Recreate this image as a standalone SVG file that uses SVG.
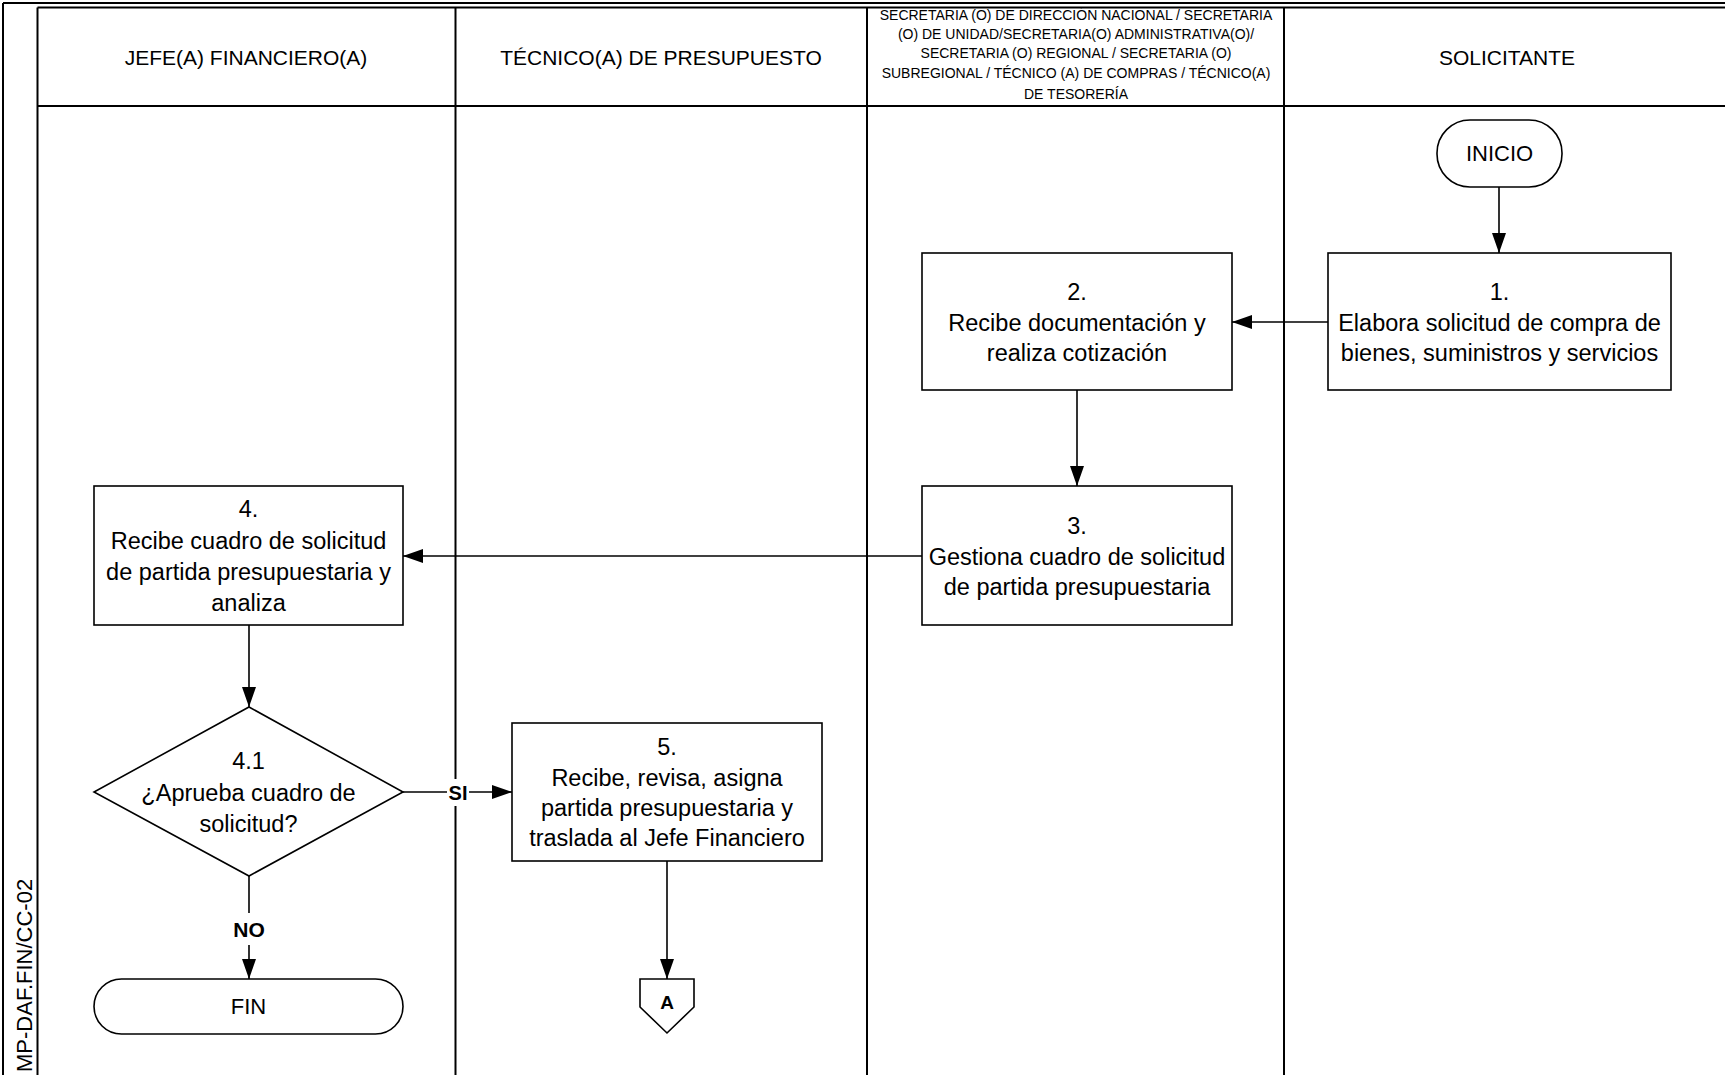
<svg xmlns="http://www.w3.org/2000/svg" width="1725" height="1075" viewBox="0 0 1725 1075">
<style>
.frame{fill:none;stroke:#000;stroke-width:2}
.shape{fill:#fff;stroke:#000;stroke-width:1.6}
.conn{fill:none;stroke:#000;stroke-width:1.6}
text{font-family:"Liberation Sans",Arial,sans-serif;fill:#000}
.t{font-size:23.5px;text-anchor:middle}
.h{font-size:21px;text-anchor:middle}
.hs{font-size:14px;text-anchor:middle}
.b{font-size:21px;font-weight:bold;text-anchor:middle}
</style>
<defs>
<marker id="arr" markerUnits="userSpaceOnUse" markerWidth="20" markerHeight="14" refX="20" refY="7" orient="auto">
<path d="M0,0 L20,7 L0,14 z" fill="#000"/>
</marker>
</defs>
<rect width="1725" height="1075" fill="#fff"/>
<g id="frame">
<line class="frame" x1="3" y1="3" x2="1725" y2="3"/>
<line class="frame" x1="3" y1="3" x2="3" y2="1075"/>
<line class="frame" x1="37.5" y1="7.5" x2="1725" y2="7.5"/>
<line class="frame" x1="37.5" y1="7.5" x2="37.5" y2="1075"/>
<line class="frame" x1="37.5" y1="106" x2="1725" y2="106"/>
<line class="frame" x1="455.5" y1="7.5" x2="455.5" y2="1075"/>
<line class="frame" x1="867" y1="7.5" x2="867" y2="1075"/>
<line class="frame" x1="1284" y1="7.5" x2="1284" y2="1075"/>
<text transform="translate(32,1072) rotate(-90)" style="font-size:22px">MP-DAF.FIN/CC-02</text>
</g>
<g id="lane-headers">
<text class="h" x="246" y="65">JEFE(A) FINANCIERO(A)</text>
<text class="h" x="661" y="65">TÉCNICO(A) DE PRESUPUESTO</text>
<text class="hs" x="1076" y="20">SECRETARIA (O) DE DIRECCIÓN NACIONAL / SECRETARIA</text>
<text class="hs" x="1076" y="39">(O) DE UNIDAD/SECRETARIA(O) ADMINISTRATIVA(O)/</text>
<text class="hs" x="1076" y="58">SECRETARIA (O) REGIONAL / SECRETARIA (O)</text>
<text class="hs" x="1076" y="78">SUBREGIONAL / TÉCNICO (A) DE COMPRAS / TÉCNICO(A)</text>
<text class="hs" x="1076" y="99">DE TESORERÍA</text>
<text class="h" x="1507" y="65">SOLICITANTE</text>
</g>
<g id="connectors">
<line class="conn" x1="1499" y1="187" x2="1499" y2="253" marker-end="url(#arr)"/>
<line class="conn" x1="1328" y1="322" x2="1232" y2="322" marker-end="url(#arr)"/>
<line class="conn" x1="1077" y1="390" x2="1077" y2="486" marker-end="url(#arr)"/>
<line class="conn" x1="922" y1="556" x2="403" y2="556" marker-end="url(#arr)"/>
<line class="conn" x1="249" y1="625" x2="249" y2="707" marker-end="url(#arr)"/>
<line class="conn" x1="403" y1="792" x2="512" y2="792" marker-end="url(#arr)"/>
<line class="conn" x1="249" y1="876" x2="249" y2="979" marker-end="url(#arr)"/>
<line class="conn" x1="667" y1="861" x2="667" y2="979" marker-end="url(#arr)"/>
<rect x="447" y="779" width="22" height="27" fill="#fff"/>
<text class="b" x="458" y="800" style="font-size:20px">SI</text>
<rect x="232" y="913" width="34" height="32" fill="#fff"/>
<text class="b" x="249" y="937">NO</text>
</g>
<g id="inicio">
<rect class="shape" x="1437" y="120" width="125" height="67" rx="33" ry="33"/>
<text class="h" x="1499.5" y="161" style="font-size:22px">INICIO</text>
</g>
<g id="step1">
<rect class="shape" x="1328" y="253" width="343" height="137"/>
<text class="t" x="1499.5" y="300">1.</text>
<text class="t" x="1499.5" y="331">Elabora solicitud de compra de</text>
<text class="t" x="1499.5" y="361">bienes, suministros y servicios</text>
</g>
<g id="step2">
<rect class="shape" x="922" y="253" width="310" height="137"/>
<text class="t" x="1077" y="300">2.</text>
<text class="t" x="1077" y="331">Recibe documentación y</text>
<text class="t" x="1077" y="361">realiza cotización</text>
</g>
<g id="step3">
<rect class="shape" x="922" y="486" width="310" height="139"/>
<text class="t" x="1077" y="534">3.</text>
<text class="t" x="1077" y="565">Gestiona cuadro de solicitud</text>
<text class="t" x="1077" y="595">de partida presupuestaria</text>
</g>
<g id="step4">
<rect class="shape" x="94" y="486" width="309" height="139"/>
<text class="t" x="248.5" y="517">4.</text>
<text class="t" x="248.5" y="549">Recibe cuadro de solicitud</text>
<text class="t" x="248.5" y="580">de partida presupuestaria y</text>
<text class="t" x="248.5" y="611">analiza</text>
</g>
<g id="decision41">
<polygon class="shape" points="249,707 403,792 249,876 94,792"/>
<text class="t" x="248.5" y="769">4.1</text>
<text class="t" x="248.5" y="801">¿Aprueba cuadro de</text>
<text class="t" x="248.5" y="832">solicitud?</text>
</g>
<g id="step5">
<rect class="shape" x="512" y="723" width="310" height="138"/>
<text class="t" x="667" y="755">5.</text>
<text class="t" x="667" y="786">Recibe, revisa, asigna</text>
<text class="t" x="667" y="816">partida presupuestaria y</text>
<text class="t" x="667" y="846">traslada al Jefe Financiero</text>
</g>
<g id="fin">
<rect class="shape" x="94" y="979" width="309" height="55" rx="27.5" ry="27.5"/>
<text class="h" x="248.5" y="1014" style="font-size:22px">FIN</text>
</g>
<g id="connectorA">
<polygon class="shape" points="640,979 694,979 694,1007 667,1033 640,1007"/>
<text class="b" x="667" y="1009" style="font-size:19px">A</text>
</g>
</svg>
